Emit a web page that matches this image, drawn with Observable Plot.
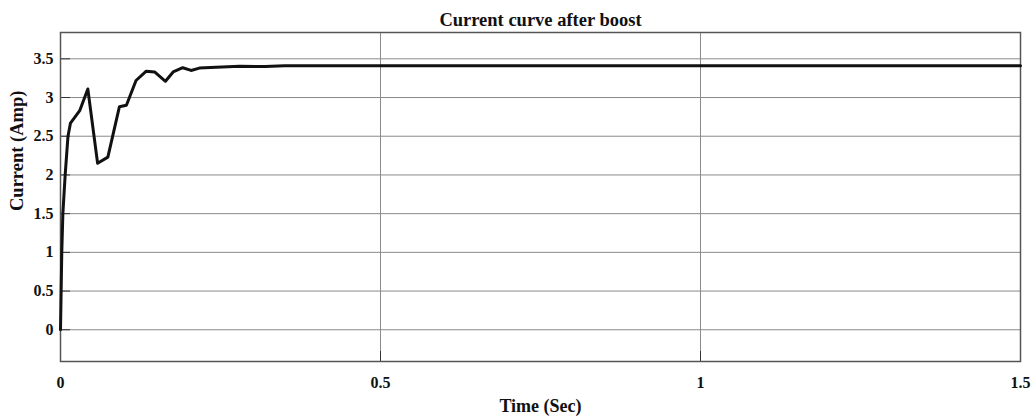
<!DOCTYPE html>
<html>
<head>
<meta charset="utf-8">
<script src="https://cdn.jsdelivr.net/npm/d3@7"></script>
<script src="https://cdn.jsdelivr.net/npm/@observablehq/plot@0.6"></script>
<style>
  html, body { margin: 0; padding: 0; background: #fff; }
  #chart svg { display: block; }
</style>
</head>
<body>
<div id="chart"></div>
<script>
const titleText = "Current curve after boost";
const xLabel = "Time (Sec)";
const yLabel = "Current (Amp)";
const xTicks = [0, 0.5, 1, 1.5];
const yTicks = [0, 0.5, 1, 1.5, 2, 2.5, 3, 3.5];

const time = [0, 0.001, 0.002, 0.0037, 0.0073, 0.0117, 0.0156, 0.030, 0.0427, 0.058, 0.074, 0.092, 0.103, 0.118, 0.134, 0.147, 0.164, 0.176, 0.191, 0.204, 0.217, 0.243, 0.28, 0.32, 0.35, 0.5, 0.75, 1.0, 1.25, 1.5];
const current = [0, 0.5, 1.0, 1.5, 2.0, 2.5, 2.67, 2.83, 3.11, 2.15, 2.23, 2.88, 2.90, 3.22, 3.34, 3.33, 3.21, 3.33, 3.385, 3.35, 3.38, 3.39, 3.405, 3.40, 3.41, 3.41, 3.41, 3.41, 3.41, 3.41];

const data = time.map((t, i) => ({t, v: current[i]}));
const font = "'Liberation Serif', 'DejaVu Serif', serif";

const chart = Plot.plot({
  width: 1036,
  height: 419,
  marginLeft: 60,
  marginRight: 16,
  marginTop: 32,
  marginBottom: 58,
  style: {fontFamily: font, fontSize: "16px", fontWeight: "bold", color: "#111", background: "#fff"},
  x: {domain: [0, 1.5], label: null},
  y: {domain: [-0.41, 3.84], label: null},
  marks: [
    Plot.gridY(yTicks, {stroke: "#8a8a8a", strokeOpacity: 1, strokeWidth: 1}),
    Plot.gridX(xTicks, {stroke: "#8a8a8a", strokeOpacity: 1, strokeWidth: 1}),
    Plot.axisY(yTicks, {tickSize: -10, text: null, stroke: "#333"}),
    Plot.axisX(xTicks, {tickSize: -10, text: null, stroke: "#333"}),
    Plot.axisY(yTicks, {tickSize: 0, tickPadding: 7, tickFormat: d => String(d), fontSize: 16, fontWeight: "bold", label: null}),
    Plot.axisX(xTicks, {tickSize: 0, tickPadding: 15, tickFormat: d => String(d), fontSize: 16, fontWeight: "bold", label: null}),
    Plot.frame({stroke: "#555", strokeWidth: 1.5}),
    Plot.line(data, {x: "t", y: "v", stroke: "#111", strokeWidth: 3, curve: "linear", strokeLinejoin: "round"}),
    Plot.text([titleText], {frameAnchor: "top", lineAnchor: "middle", dy: -12, fontSize: 18.5, fontWeight: "bold", fill: "#111"}),
    Plot.text([xLabel], {frameAnchor: "bottom", lineAnchor: "middle", dy: 45, fontSize: 18, fontWeight: "bold", fill: "#111"}),
    Plot.text([yLabel], {frameAnchor: "left", lineAnchor: "middle", dx: -43, dy: 14, rotate: -90, fontSize: 18.5, fontWeight: "bold", fill: "#111"})
  ]
});
document.getElementById("chart").appendChild(chart);
</script>
</body>
</html>
